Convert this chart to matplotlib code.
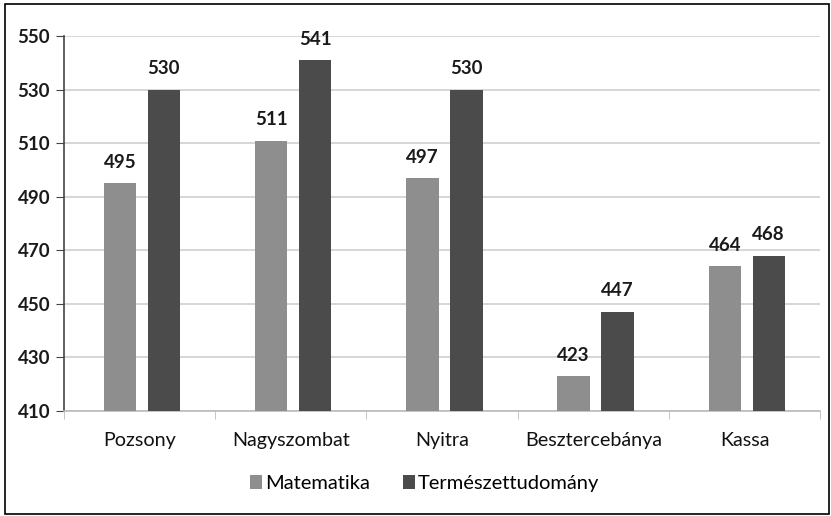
import matplotlib
matplotlib.use("Agg")
import matplotlib.pyplot as plt
import numpy as np
from matplotlib.patches import Rectangle

categories = ["Pozsony", "Nagyszombat", "Nyitra", "Besztercebánya", "Kassa"]
matematika = [495, 511, 497, 423, 464]
termeszet = [530, 541, 530, 447, 468]
yticks = [410, 430, 450, 470, 490, 510, 530, 550]

plt.rcParams['font.family'] = ['Lato', 'DejaVu Sans']

fig = plt.figure(figsize=(8.31, 5.16), dpi=100)
ax = fig.add_axes([0.077, 0.2035, 0.91, 0.7265])

x = np.arange(len(categories))
w = 0.215
off = 0.145
light = "#8e8e8e"
dark = "#4b4b4b"
b1 = ax.bar(x - off + 0.015, matematika, w, color=light, label="Matematika", zorder=3)
b2 = ax.bar(x + off + 0.015, termeszet, w, color=dark, label="Természettudomány", zorder=3)

for bars, vals in ((b1, matematika), (b2, termeszet)):
    for r, v in zip(bars, vals):
        ax.annotate(str(v), (r.get_x() + r.get_width() / 2, v), xytext=(0, 9),
                    textcoords="offset points", ha="center", va="bottom",
                    fontsize=13.5, fontweight="bold", color="#1a1a1a")

ax.set_ylim(410, 550)
ax.set_xlim(-0.5, len(categories) - 0.5)
ax.set_yticks(yticks)
ax.set_yticklabels([str(t) for t in yticks], fontsize=13.5, fontweight="bold", color="#1a1a1a")
ax.set_xticks(x)
ax.set_xticklabels(categories, fontsize=14.2, color="#111111")
ax.set_xticks(np.arange(len(categories) + 1) - 0.5, minor=True)
ax.tick_params(axis="x", which="major", length=0, pad=15)
ax.tick_params(axis="x", which="minor", length=6, color="#bbbbbb", direction="out")
ax.tick_params(axis="y", length=6, color="#444444", direction="out", pad=4)
ax.yaxis.grid(True, color="#d0d0d0", linewidth=1.2, zorder=0)
ax.set_axisbelow(True)
for s in ("top", "right"):
    ax.spines[s].set_visible(False)
ax.spines["left"].set_color("#444444")
ax.spines["left"].set_linewidth(1.2)
ax.spines["bottom"].set_color("#bbbbbb")
ax.spines["bottom"].set_linewidth(1.2)

fig.legend(handles=[b1, b2], loc="center", bbox_to_anchor=(0.511, 0.063), ncol=2,
           frameon=False, fontsize=14.5, handlelength=0.6, handleheight=0.7,
           handletextpad=0.15, columnspacing=1.6)

fig.add_artist(Rectangle((0.006, 0.004), 0.992, 0.988, transform=fig.transFigure,
                         fill=False, edgecolor="black", linewidth=1.2))

fig.savefig("out.png", dpi=100)
